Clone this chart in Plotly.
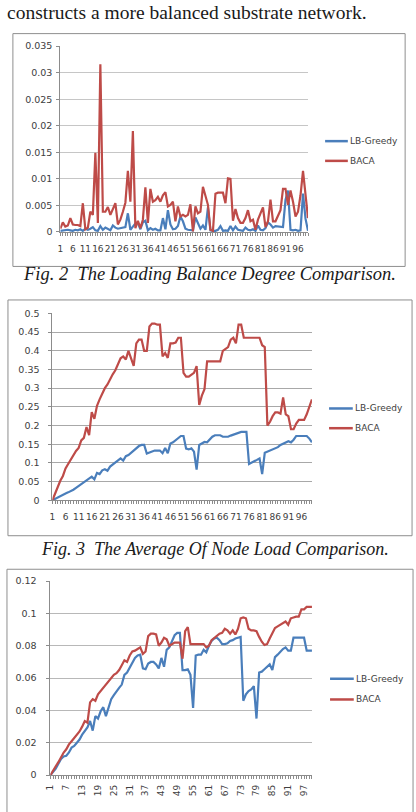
import plotly.graph_objects as go

W, H = 416, 812


def px(x):
    return x / W


def py(y):
    return 1 - y / H


# ---------------- data ----------------
categories = list(range(1, 101))
series_names = ["LB-Greedy", "BACA"]

# Fig. 2  Loading balance degree
fig2_greedy = [
    0.0002, 0.0003, 0.0003, 0.0004, 0.0003, 0.0002, 0.0004, 0.0003, 0.0005, 0.0002,
    0.0006, 0.0004, 0.0006, 0.0009, 0.0003, 0.0002, 0.0011, 0.0004, 0.0008, 0.0006,
    0.0003, 0.0012, 0.0008, 0.0006, 0.0007, 0.0008, 0.0009, 0.0035, 0.0004, 0.0010,
    0.0016, 0.0017, 0.0005, 0.0018, 0.0021, 0.0003, 0.0007, 0.0004, 0.0006, 0.0003,
    0.0003, 0.0026, 0.0005, 0.0041, 0.0014, 0.0005, 0.0006, 0.0011, 0.0029, 0.0020,
    0.0006, 0.0004, 0.0003, 0.0003, 0.0027, 0.0017, 0.0006, 0.0012, 0.0004, 0.0046,
    0.0003, 0.0002, 0.0002, 0.0004, 0.0011, 0.0002, 0.0003, 0.0002, 0.0011, 0.0003,
    0.0010, 0.0004, 0.0003, 0.0002, 0.0008, 0.0004, 0.0003, 0.0005, 0.0002, 0.0012,
    0.0004, 0.0003, 0.0007, 0.0018, 0.0014, 0.0008, 0.0011, 0.0010, 0.0009, 0.0009,
    0.0060, 0.0078, 0.0004, 0.0003, 0.0004, 0.0002, 0.0003, 0.0072, 0.0025, 0.0002,
]
fig2_baca = [
    0.0006, 0.0018, 0.0010, 0.0012, 0.0026, 0.0014, 0.0013, 0.0013, 0.0011, 0.0054,
    0.0005, 0.0008, 0.0038, 0.0032, 0.0149, 0.0017, 0.0316, 0.0038, 0.0038, 0.0047,
    0.0032, 0.0044, 0.0054, 0.0014, 0.0023, 0.0038, 0.0055, 0.0115, 0.0057, 0.0190,
    0.0007, 0.0021, 0.0007, 0.0023, 0.0084, 0.0017, 0.0081, 0.0057, 0.0060, 0.0066,
    0.0057, 0.0069, 0.0075, 0.0048, 0.0051, 0.0057, 0.0020, 0.0048, 0.0029, 0.0032,
    0.0029, 0.0032, 0.0052, 0.0001, 0.0048, 0.0035, 0.0038, 0.0085, 0.0069, 0.0051,
    0.0004, 0.0002, 0.0072, 0.0074, 0.0074, 0.0074, 0.0054, 0.0101, 0.0100, 0.0021,
    0.0043, 0.0026, 0.0017, 0.0017, 0.0026, 0.0041, 0.0020, 0.0023, 0.0004, 0.0023,
    0.0035, 0.0046, 0.0009, 0.0020, 0.0061, 0.0020, 0.0020, 0.0029, 0.0041, 0.0081,
    0.0081, 0.0051, 0.0078, 0.0057, 0.0029, 0.0038, 0.0069, 0.0115, 0.0063, 0.0026,
]

# Fig. 3  Average of node load
fig3_greedy = [
    0.000, 0.004, 0.008, 0.011, 0.014, 0.018, 0.021, 0.024, 0.028, 0.033,
    0.038, 0.044, 0.049, 0.053, 0.058, 0.063, 0.056, 0.073, 0.070, 0.080,
    0.083, 0.079, 0.090, 0.095, 0.100, 0.106, 0.112, 0.106, 0.118, 0.121,
    0.127, 0.133, 0.138, 0.145, 0.148, 0.148, 0.125, 0.128, 0.131, 0.133,
    0.133, 0.133, 0.126, 0.140, 0.126, 0.152, 0.155, 0.160, 0.165, 0.172,
    0.172, 0.138, 0.136, 0.139, 0.130, 0.082, 0.148, 0.152, 0.156, 0.155,
    0.162, 0.170, 0.174, 0.174, 0.174, 0.170, 0.170, 0.170, 0.173, 0.176,
    0.178, 0.180, 0.183, 0.183, 0.183, 0.097, 0.100, 0.103, 0.108, 0.112,
    0.070, 0.127, 0.130, 0.133, 0.135, 0.137, 0.142, 0.148, 0.152, 0.156,
    0.158, 0.155, 0.162, 0.172, 0.172, 0.172, 0.172, 0.172, 0.165, 0.155,
]
fig3_baca = [
    0.000, 0.018, 0.038, 0.052, 0.065, 0.085, 0.097, 0.110, 0.122, 0.132,
    0.140, 0.160, 0.167, 0.196, 0.174, 0.236, 0.218, 0.253, 0.270, 0.287,
    0.300, 0.310, 0.326, 0.337, 0.348, 0.363, 0.380, 0.385, 0.377, 0.400,
    0.380, 0.360, 0.420, 0.430, 0.430, 0.400, 0.400, 0.465, 0.473, 0.473,
    0.470, 0.470, 0.385, 0.394, 0.381, 0.420, 0.420, 0.422, 0.435, 0.435,
    0.341, 0.331, 0.331, 0.335, 0.341, 0.359, 0.255, 0.280, 0.297, 0.372,
    0.372, 0.372, 0.372, 0.372, 0.372, 0.400, 0.405, 0.410, 0.430, 0.435,
    0.420, 0.470, 0.470, 0.435, 0.435, 0.435, 0.435, 0.435, 0.435, 0.435,
    0.415, 0.410, 0.200, 0.210, 0.225, 0.235, 0.235, 0.232, 0.275, 0.230,
    0.225, 0.190, 0.190, 0.205, 0.215, 0.215, 0.215, 0.230, 0.250, 0.270,
]

# Fig. 4  third comparison
fig4_greedy = [
    0.000, 0.002, 0.004, 0.007, 0.010, 0.0115, 0.012, 0.014, 0.017, 0.018,
    0.020, 0.022, 0.025, 0.0275, 0.0295, 0.0335, 0.0275, 0.0365, 0.035, 0.0395,
    0.042, 0.0365, 0.0425, 0.047, 0.0495, 0.052, 0.054, 0.056, 0.062, 0.0635,
    0.0665, 0.070, 0.0725, 0.074, 0.0745, 0.066, 0.0655, 0.069, 0.070, 0.070,
    0.0685, 0.066, 0.0725, 0.067, 0.0775, 0.079, 0.0825, 0.0865, 0.088, 0.088,
    0.065, 0.065, 0.0655, 0.062, 0.0415, 0.074, 0.0745, 0.0745, 0.0775, 0.076,
    0.080, 0.083, 0.0845, 0.085, 0.0835, 0.081, 0.081, 0.0815, 0.083, 0.0835,
    0.0845, 0.085, 0.0855, 0.046, 0.050, 0.052, 0.053, 0.055, 0.035, 0.0635,
    0.064, 0.0655, 0.067, 0.0685, 0.065, 0.073, 0.0745, 0.0765, 0.078, 0.079,
    0.077, 0.077, 0.085, 0.085, 0.085, 0.085, 0.085, 0.077, 0.077, 0.077,
]
fig4_baca = [
    0.000, 0.003, 0.0055, 0.008, 0.011, 0.014, 0.016, 0.019, 0.021, 0.023,
    0.025, 0.027, 0.030, 0.0335, 0.0325, 0.045, 0.047, 0.046, 0.050, 0.052,
    0.054, 0.056, 0.0575, 0.060, 0.062, 0.063, 0.065, 0.068, 0.071, 0.070,
    0.074, 0.0765, 0.077, 0.078, 0.079, 0.075, 0.0765, 0.086, 0.0875, 0.0875,
    0.087, 0.080, 0.082, 0.085, 0.084, 0.080, 0.081, 0.082, 0.082, 0.082,
    0.072, 0.089, 0.0915, 0.081, 0.081, 0.081, 0.081, 0.081, 0.081, 0.079,
    0.080, 0.0835, 0.085, 0.086, 0.0875, 0.088, 0.0905, 0.0895, 0.0875, 0.0895,
    0.087, 0.0905, 0.097, 0.0975, 0.097, 0.0905, 0.0895, 0.0895, 0.089, 0.0855,
    0.0825, 0.0805, 0.081, 0.0845, 0.088, 0.091, 0.092, 0.093, 0.0945, 0.095,
    0.093, 0.097, 0.0975, 0.098, 0.098, 0.1025, 0.1025, 0.104, 0.104, 0.104,
]

fig2_yticks = [0, 0.005, 0.01, 0.015, 0.02, 0.025, 0.03, 0.035]
fig2_ylabels = ["0", "0.005", "0.01", "0.015", "0.02", "0.025", "0.03", "0.035"]
fig3_yticks = [0, 0.05, 0.1, 0.15, 0.2, 0.25, 0.3, 0.35, 0.4, 0.45, 0.5]
fig3_ylabels = ["0", "0.05", "0.1", "0.15", "0.2", "0.25", "0.3", "0.35", "0.4", "0.45", "0.5"]
fig4_yticks = [0, 0.02, 0.04, 0.06, 0.08, 0.1, 0.12]
fig4_ylabels = ["0", "0.02", "0.04", "0.06", "0.08", "0.1", "0.12"]

x_labels_5 = [1, 6, 11, 16, 21, 26, 31, 36, 41, 46, 51, 56, 61, 66, 71, 76, 81, 86, 91, 96]
x_labels_6 = [1, 7, 13, 19, 25, 31, 37, 43, 49, 55, 61, 67, 73, 79, 85, 91, 97]

top_text = "constructs a more balanced substrate network."
caption2 = "Fig. 2\u00a0\u00a0The Loading Balance Degree Comparison."
caption3 = "Fig. 3\u00a0\u00a0The Average Of Node Load Comparison."

# ---------------- styling ----------------
BLUE = "#4A7EBB"
RED = "#BE4B48"
XFONT = dict(family="DejaVu Sans", size=9, color="#404040")
YFONT = dict(family="DejaVu Sans", size=9.5, color="#404040")
AXIS = "#8C8C8C"

panels = [
    dict(g=fig2_greedy, b=fig2_baca, yt=fig2_yticks, yl=fig2_ylabels, ymax=0.035,
         xt=x_labels_5, xang=0, x0=56, x1=306.7, ytop=40.7, ybot=229,
         grid="#C6C6C6", ystand=2, xstand=8, legx=324, legx2=347, legy=(137, 157),
         box=(8, 28, 405, 264)),
    dict(g=fig3_greedy, b=fig3_baca, yt=fig3_yticks, yl=fig3_ylabels, ymax=0.5,
         xt=x_labels_5, xang=0, x0=48, x1=310.7, ytop=311.7, ybot=501,
         grid="#A8A8A8", ystand=7, xstand=8, legx=328, legx2=352, legy=(408, 428),
         box=(3, 298, 412, 537)),
    dict(g=fig4_greedy, b=fig4_baca, yt=fig4_yticks, yl=fig4_ylabels, ymax=0.12,
         xt=x_labels_6, xang=-90, x0=46, x1=310.7, ytop=583, ybot=779.7,
         grid="#B8B8B8", ystand=8, xstand=5, legx=329, legx2=353, legy=(682, 703),
         box=(2, 571, 413, 830)),
]

fig = go.Figure()
layout = dict(
    width=W, height=H, margin=dict(l=0, r=0, t=0, b=0),
    paper_bgcolor="white", plot_bgcolor="white", showlegend=False,
)
shapes = []
annotations = []

for k, p in enumerate(panels):
    xa = "x" if k == 0 else f"x{k + 1}"
    ya = "y" if k == 0 else f"y{k + 1}"
    xkey = "xaxis" if k == 0 else f"xaxis{k + 1}"
    ykey = "yaxis" if k == 0 else f"yaxis{k + 1}"

    # chart frame (drawn under)
    bx0, by0, bx1, by1 = p["box"]
    shapes.append(dict(type="rect", xref="paper", yref="paper",
                       x0=px(bx0), x1=px(bx1), y0=py(by1), y1=py(by0),
                       line=dict(color="#8E8E8E", width=1), layer="below"))

    for name, vals, col in ((series_names[0], p["g"], BLUE), (series_names[1], p["b"], RED)):
        fig.add_trace(go.Scatter(x=categories[:len(vals)], y=vals, mode="lines", name=name,
                                 line=dict(color=col, width=2.2), xaxis=xa, yaxis=ya,
                                 hoverinfo="skip"))

    layout[xkey] = dict(
        domain=[px(p["x0"]), px(p["x1"])], anchor=ya, range=[1, 100],
        tickmode="array", tickvals=p["xt"], ticktext=[str(v) for v in p["xt"]],
        tickangle=p["xang"], tickfont=XFONT, ticks="", ticklabelstandoff=p["xstand"],
        showline=True, linecolor=AXIS, linewidth=1, showgrid=False, zeroline=False,
        minor=dict(tickmode="linear", tick0=1, dtick=1, ticks="outside", ticklen=3,
                   tickcolor=AXIS, tickwidth=1, showgrid=False),
        fixedrange=True,
    )
    layout[ykey] = dict(
        domain=[py(p["ybot"]), py(p["ytop"])], anchor=xa, range=[0, p["ymax"]],
        tickmode="array", tickvals=p["yt"], ticktext=p["yl"], tickfont=YFONT,
        ticks="outside", ticklen=3, tickcolor=AXIS, ticklabelstandoff=p["ystand"],
        showline=True, linecolor=AXIS, linewidth=1,
        showgrid=True, gridcolor=p["grid"], gridwidth=1, zeroline=False, fixedrange=True,
    )

    # legend drawn as in the original (line sample + label)
    for name, col, yy in ((series_names[0], BLUE, p["legy"][0]), (series_names[1], RED, p["legy"][1])):
        shapes.append(dict(type="line", xref="paper", yref="paper",
                           x0=px(p["legx"]), x1=px(p["legx2"]), y0=py(yy), y1=py(yy),
                           line=dict(color=col, width=2.5)))
        annotations.append(dict(text=name, xref="paper", yref="paper", x=px(p["legx2"] + 0.5),
                                y=py(yy), xanchor="left", yanchor="middle", showarrow=False,
                                font=dict(family="DejaVu Sans", size=9, color="#404040")))

# page text
annotations.append(dict(text=top_text, xref="paper", yref="paper", x=px(0), y=py(6.5),
                        xanchor="left", yanchor="middle", showarrow=False,
                        font=dict(family="Liberation Serif", size=19.5, color="#1a1a1a")))
annotations.append(dict(text="<i>" + caption2 + "</i>", xref="paper", yref="paper",
                        x=px(206.5), y=py(271.5), xanchor="center", yanchor="middle",
                        showarrow=False,
                        font=dict(family="Liberation Serif", size=18.5, color="#1a1a1a")))
annotations.append(dict(text="<i>" + caption3 + "</i>", xref="paper", yref="paper",
                        x=px(213), y=py(550), xanchor="center", yanchor="middle",
                        showarrow=False,
                        font=dict(family="Liberation Serif", size=18, color="#1a1a1a")))

layout["shapes"] = shapes
layout["annotations"] = annotations
fig.update_layout(**layout)
fig.write_html("out.html")
